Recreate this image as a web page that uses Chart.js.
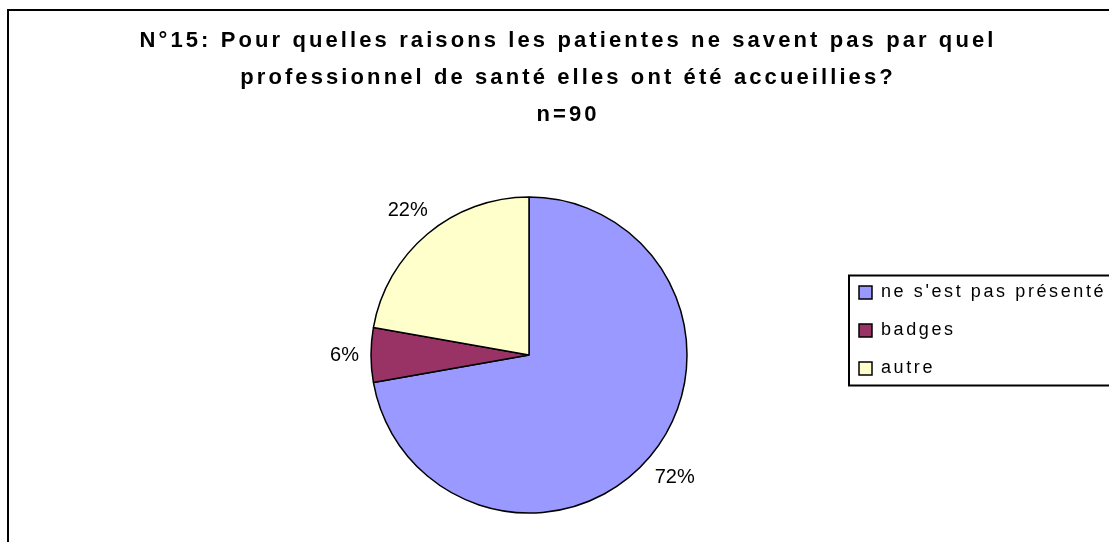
<!DOCTYPE html>
<html>
<head>
<meta charset="utf-8">
<script src="https://cdn.jsdelivr.net/npm/chart.js@4"></script>
<style>
  html, body { margin: 0; padding: 0; background: #fff; overflow: hidden; }
  #frame { position: absolute; left: 7px; top: 9px; width: 1130px; height: 560px; border: 2px solid #000; }
  #wrap { position: absolute; left: 0; top: 0; }
</style>
</head>
<body>
<div id="frame"></div>
<div id="wrap"><canvas id="pieChart" width="1130" height="542"></canvas></div>
<script>
// --- données ---
const titleLines = [
    'N°15: Pour quelles raisons les patientes ne savent pas par quel',
    'professionnel de santé elles ont été accueillies?',
    'n=90'
];
const categories = ["ne s'est pas présenté", 'badges', 'autre'];
const counts = [65, 5, 20];
const sliceColors = ['#9999FF', '#993366', '#FFFFCC'];

const FONT = '"Liberation Sans", Arial, sans-serif';
const LEGEND_SPACING = '2.6px';
const LEGEND_PAD = 20;
const LEGEND_FONT_SIZE = 18;
const LEGEND_BOX = 13;

// largeur du texte de légende le plus long, pour caler la légende
function measureLegendText() {
    const c = document.createElement('canvas').getContext('2d');
    c.font = LEGEND_FONT_SIZE + 'px ' + FONT;
    c.letterSpacing = LEGEND_SPACING;
    return Math.max(...categories.map(t => c.measureText(t).width));
}
const legendLeft = 839;
const pieCenterX = 529;
const canvasW = 1130;
// chart.js ajoute 10px à la largeur d'une légende verticale
const legendRight = legendLeft + LEGEND_PAD + LEGEND_BOX + LEGEND_FONT_SIZE / 2 + measureLegendText() + 10;

const spacingPlugin = {
    id: 'spacing',
    beforeLayout(chart) { chart.ctx.letterSpacing = LEGEND_SPACING; },
    beforeDraw(chart) { chart.ctx.letterSpacing = LEGEND_SPACING; }
};

const titlePlugin = {
    id: 'multiTitle',
    afterDraw(chart) {
        const ctx = chart.ctx;
        ctx.save();
        ctx.font = 'bold 22px ' + FONT;
        ctx.letterSpacing = '3.1px';
        ctx.fillStyle = '#000';
        ctx.textAlign = 'center';
        ctx.textBaseline = 'middle';
        titleLines.forEach((line, i) => ctx.fillText(line, 568, 41 + i * 37));
        ctx.restore();
    }
};

const legendFramePlugin = {
    id: 'legendFrame',
    afterDraw(chart) {
        const boxes = chart.legend.legendHitBoxes;
        if (!boxes || !boxes.length) return;
        const first = boxes[0];
        const last = boxes[boxes.length - 1];
        const ctx = chart.ctx;
        const top = first.top + first.height / 2 - 17;
        const bottom = last.top + last.height / 2 + 17;
        ctx.save();
        ctx.strokeStyle = '#000';
        ctx.lineWidth = 2;
        ctx.strokeRect(first.left - 10, top, 400, bottom - top);
        ctx.restore();
    }
};

const pctLabels = {
    id: 'pctLabels',
    afterDatasetsDraw(chart) {
        const ctx = chart.ctx;
        const meta = chart.getDatasetMeta(0);
        const total = counts.reduce((a, b) => a + b, 0);
        ctx.save();
        ctx.letterSpacing = '0px';
        ctx.font = '20px ' + FONT;
        ctx.fillStyle = '#000';
        ctx.textAlign = 'center';
        ctx.textBaseline = 'middle';
        meta.data.forEach((arc, i) => {
            const p = arc.getProps(['x', 'y', 'startAngle', 'endAngle', 'outerRadius'], true);
            const mid = (p.startAngle + p.endAngle) / 2;
            const text = Math.round(counts[i] / total * 100) + '%';
            const w = ctx.measureText(text).width;
            const h = 15;
            const cos = Math.cos(mid), sin = Math.sin(mid);
            const d = p.outerRadius + 12 + Math.abs(cos) * w / 2 + Math.abs(sin) * h / 2;
            ctx.fillText(text, p.x + cos * d, p.y + sin * d);
        });
        ctx.restore();
    }
};

new Chart(document.getElementById('pieChart'), {
    type: 'pie',
    data: {
        labels: categories,
        datasets: [{
            data: counts,
            backgroundColor: sliceColors,
            borderColor: '#000',
            borderWidth: 1.5,
            radius: 158
        }]
    },
    options: {
        responsive: false,
        animation: false,
        devicePixelRatio: 1,
        events: [],
        layout: {
            padding: { left: 2 * pieCenterX - legendLeft, top: 168, right: canvasW - legendRight, bottom: 0 }
        },
        plugins: {
            title: { display: false },
            tooltip: { enabled: false },
            legend: {
                position: 'right',
                // titre vide, sert seulement à remonter le bloc de la légende
                title: { display: true, text: '', font: { size: 10 }, padding: { top: -61, bottom: 0 } },
                labels: {
                    color: '#000',
                    boxWidth: LEGEND_BOX,
                    boxHeight: LEGEND_BOX,
                    padding: LEGEND_PAD,
                    font: { size: LEGEND_FONT_SIZE, family: FONT }
                }
            }
        }
    },
    plugins: [spacingPlugin, titlePlugin, legendFramePlugin, pctLabels]
});
</script>
</body>
</html>
